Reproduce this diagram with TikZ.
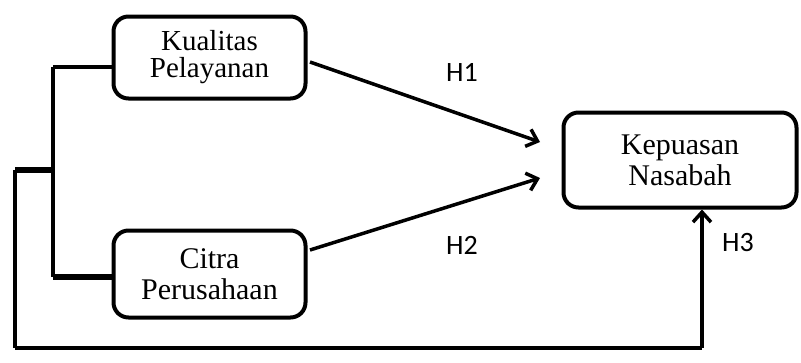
\documentclass[tikz,border=0pt]{standalone}
\usepackage{fontspec}
\setmainfont{Liberation Serif}
\newfontfamily\lblfont{Carlito}
\usetikzlibrary{arrows.meta,calc}
\tikzset{
  var/.style={rectangle,draw,line width=4pt,rounded corners=15pt,
              align=center,inner sep=2pt,
              font=\fontsize{30}{31}\selectfont},
  hyp/.style={font=\lblfont\fontsize{28}{30}\selectfont},
  edge/.style={-{Straight Barb[length=10pt,width=18pt,line width=3.5pt]},line width=3.5pt},
  brace/.style={line width=4.5pt},
}
\begin{document}
\begin{tikzpicture}[x=1pt,y=-1pt]
\useasboundingbox (0,0) rectangle (801,362);
% Variables
\node[var,minimum width=192pt,minimum height=82pt,
      font=\fontsize{29}{27}\selectfont] (kp) at (209.5,57.5) {Kualitas\\Pelayanan};
\node[var,minimum width=192pt,minimum height=87pt] (cp) at (209.5,274) {Citra\\Perusahaan};
\node[var,minimum width=233pt,minimum height=95pt] (kn) at (680,160) {Kepuasan\\Nasabah};

% Bracket on the left
\coordinate (bt) at (53,67);
\coordinate (bb) at (53,277);
\coordinate (bm) at (53,170);
\coordinate (ol) at (15,170);
\coordinate (od) at (15,348);
\coordinate (or) at (702,348);
\draw[brace,line width=4pt] (bt -| kp.west) -- (bt);
\draw[brace] (bt) -- (bb);
\draw[brace,line width=6pt] (bb) -- (bb -| cp.west);
\draw[brace,line width=6pt] (bm) -- (ol);
\draw[brace] (ol) -- (od);
\draw[line width=3.5pt] (od) -- (or);
\draw[edge] (or) -- (or |- kn.south);

% Direct paths
\coordinate (h1s) at (310,62);
\coordinate (h1e) at (540,142);
\coordinate (h2s) at (310,250);
\coordinate (h2e) at (540,178);
\draw[edge] (h1s) -- (h1e);
\draw[edge] (h2s) -- (h2e);

% Labels
\node[hyp] (h1) at (462,72) {H1};
\node[hyp] (h2) at (462,245) {H2};
\node[hyp] (h3) at (738,243) {H3};
\end{tikzpicture}
\end{document}
